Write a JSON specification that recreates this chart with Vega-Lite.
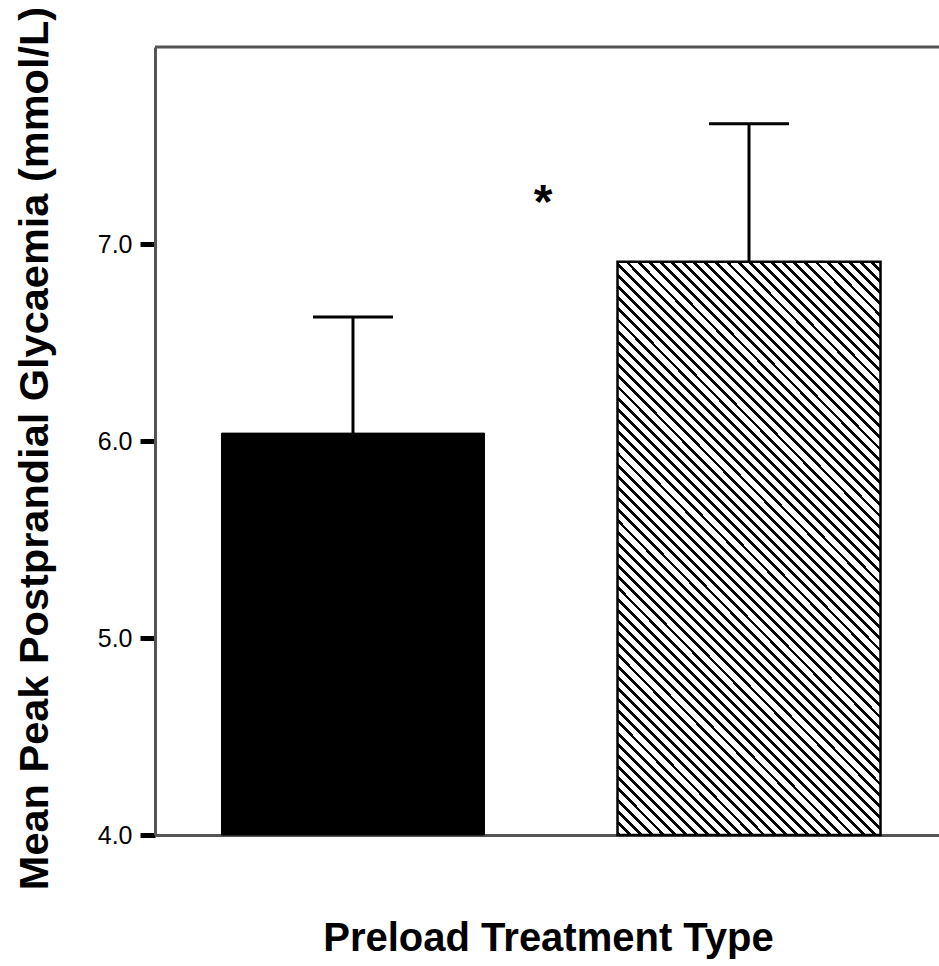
{
  "$schema": "https://vega.github.io/schema/vega-lite/v6.json",
  "width": 784,
  "height": 788,
  "autosize": {"type": "none"},
  "padding": {"left": 155, "top": 47, "right": 0, "bottom": 131},
  "background": "white",
  "config": {"font": "Liberation Sans", "view": {"stroke": null}},
  "datasets": {
    "bars": [
      {"treatment": "Preload A", "mean": 6.04, "upper": 6.63},
      {"treatment": "Preload B", "mean": 6.91, "upper": 7.61}
    ],
    "annot": [
      {"treatment": "Preload B", "pos": 7.13, "label": "*"}
    ]
  },
  "layer": [
    {
      "data": {"name": "bars"},
      "transform": [{"filter": {"field": "treatment", "equal": "Preload A"}}],
      "mark": {"type": "bar", "fill": "#000", "stroke": "#000", "strokeWidth": 1},
      "encoding": {
        "x": {
          "field": "treatment", "type": "nominal",
          "scale": {"domain": ["Preload A", "Preload B"], "paddingInner": 0.3359, "paddingOuter": 0.1578, "align": 0.532},
          "title": "Preload Treatment Type",
          "axis": {"labels": false, "ticks": false, "grid": false, "domain": true, "domainColor": "#555", "domainWidth": 3,
            "titleFontSize": 40, "titleFontWeight": "bold", "titleFont": "Liberation Sans", "titleColor": "#000",
            "titleX": 393, "titleY": 115, "titleBaseline": "alphabetic", "titleAlign": "center"}
        },
        "y": {
          "field": "mean", "type": "quantitative",
          "scale": {"domain": [4, 8], "nice": false, "zero": false},
          "title": "Mean Peak Postprandial Glycaemia (mmol/L)",
          "axis": {"values": [4, 5, 6, 7], "format": ".1f", "grid": false, "domain": true, "domainColor": "#555", "domainWidth": 3,
            "ticks": true, "tickColor": "#000", "tickWidth": 5, "tickSize": 15, "labelFlush": false,
            "labelFontSize": 25, "labelColor": "#000", "labelPadding": 8, "labelFont": "Liberation Sans",
            "titleFontSize": 41.5, "titleFont": "Liberation Sans", "titleFontWeight": "bold", "titleColor": "#000",
            "titleAngle": -90, "titleBaseline": "alphabetic", "titleAlign": "center", "titleX": -108, "titleY": 401}
        },
        "y2": {"datum": 4}
      }
    },
    {
      "data": {"name": "bars"},
      "transform": [{"filter": {"field": "treatment", "equal": "Preload B"}}],
      "mark": {
        "type": "bar", "stroke": "#000", "strokeWidth": 2.5,
        "fill": {
          "gradient": "linear", "x1": 0, "y1": 1, "x2": 0.555, "y2": -0.205,
          "stops": [
            {"offset": 0, "color": "#000"}, {"offset": 0.00467, "color": "#000"}, {"offset": 0.00467, "color": "#fff"}, {"offset": 0.01333, "color": "#fff"},
            {"offset": 0.01333, "color": "#000"}, {"offset": 0.018, "color": "#000"}, {"offset": 0.018, "color": "#fff"}, {"offset": 0.02667, "color": "#fff"},
            {"offset": 0.02667, "color": "#000"}, {"offset": 0.03133, "color": "#000"}, {"offset": 0.03133, "color": "#fff"}, {"offset": 0.04, "color": "#fff"},
            {"offset": 0.04, "color": "#000"}, {"offset": 0.04467, "color": "#000"}, {"offset": 0.04467, "color": "#fff"}, {"offset": 0.05333, "color": "#fff"},
            {"offset": 0.05333, "color": "#000"}, {"offset": 0.058, "color": "#000"}, {"offset": 0.058, "color": "#fff"}, {"offset": 0.06667, "color": "#fff"},
            {"offset": 0.06667, "color": "#000"}, {"offset": 0.07133, "color": "#000"}, {"offset": 0.07133, "color": "#fff"}, {"offset": 0.08, "color": "#fff"},
            {"offset": 0.08, "color": "#000"}, {"offset": 0.08467, "color": "#000"}, {"offset": 0.08467, "color": "#fff"}, {"offset": 0.09333, "color": "#fff"},
            {"offset": 0.09333, "color": "#000"}, {"offset": 0.098, "color": "#000"}, {"offset": 0.098, "color": "#fff"}, {"offset": 0.10667, "color": "#fff"},
            {"offset": 0.10667, "color": "#000"}, {"offset": 0.11133, "color": "#000"}, {"offset": 0.11133, "color": "#fff"}, {"offset": 0.12, "color": "#fff"},
            {"offset": 0.12, "color": "#000"}, {"offset": 0.12467, "color": "#000"}, {"offset": 0.12467, "color": "#fff"}, {"offset": 0.13333, "color": "#fff"},
            {"offset": 0.13333, "color": "#000"}, {"offset": 0.138, "color": "#000"}, {"offset": 0.138, "color": "#fff"}, {"offset": 0.14667, "color": "#fff"},
            {"offset": 0.14667, "color": "#000"}, {"offset": 0.15133, "color": "#000"}, {"offset": 0.15133, "color": "#fff"}, {"offset": 0.16, "color": "#fff"},
            {"offset": 0.16, "color": "#000"}, {"offset": 0.16467, "color": "#000"}, {"offset": 0.16467, "color": "#fff"}, {"offset": 0.17333, "color": "#fff"},
            {"offset": 0.17333, "color": "#000"}, {"offset": 0.178, "color": "#000"}, {"offset": 0.178, "color": "#fff"}, {"offset": 0.18667, "color": "#fff"},
            {"offset": 0.18667, "color": "#000"}, {"offset": 0.19133, "color": "#000"}, {"offset": 0.19133, "color": "#fff"}, {"offset": 0.2, "color": "#fff"},
            {"offset": 0.2, "color": "#000"}, {"offset": 0.20467, "color": "#000"}, {"offset": 0.20467, "color": "#fff"}, {"offset": 0.21333, "color": "#fff"},
            {"offset": 0.21333, "color": "#000"}, {"offset": 0.218, "color": "#000"}, {"offset": 0.218, "color": "#fff"}, {"offset": 0.22667, "color": "#fff"},
            {"offset": 0.22667, "color": "#000"}, {"offset": 0.23133, "color": "#000"}, {"offset": 0.23133, "color": "#fff"}, {"offset": 0.24, "color": "#fff"},
            {"offset": 0.24, "color": "#000"}, {"offset": 0.24467, "color": "#000"}, {"offset": 0.24467, "color": "#fff"}, {"offset": 0.25333, "color": "#fff"},
            {"offset": 0.25333, "color": "#000"}, {"offset": 0.258, "color": "#000"}, {"offset": 0.258, "color": "#fff"}, {"offset": 0.26667, "color": "#fff"},
            {"offset": 0.26667, "color": "#000"}, {"offset": 0.27133, "color": "#000"}, {"offset": 0.27133, "color": "#fff"}, {"offset": 0.28, "color": "#fff"},
            {"offset": 0.28, "color": "#000"}, {"offset": 0.28467, "color": "#000"}, {"offset": 0.28467, "color": "#fff"}, {"offset": 0.29333, "color": "#fff"},
            {"offset": 0.29333, "color": "#000"}, {"offset": 0.298, "color": "#000"}, {"offset": 0.298, "color": "#fff"}, {"offset": 0.30667, "color": "#fff"},
            {"offset": 0.30667, "color": "#000"}, {"offset": 0.31133, "color": "#000"}, {"offset": 0.31133, "color": "#fff"}, {"offset": 0.32, "color": "#fff"},
            {"offset": 0.32, "color": "#000"}, {"offset": 0.32467, "color": "#000"}, {"offset": 0.32467, "color": "#fff"}, {"offset": 0.33333, "color": "#fff"},
            {"offset": 0.33333, "color": "#000"}, {"offset": 0.338, "color": "#000"}, {"offset": 0.338, "color": "#fff"}, {"offset": 0.34667, "color": "#fff"},
            {"offset": 0.34667, "color": "#000"}, {"offset": 0.35133, "color": "#000"}, {"offset": 0.35133, "color": "#fff"}, {"offset": 0.36, "color": "#fff"},
            {"offset": 0.36, "color": "#000"}, {"offset": 0.36467, "color": "#000"}, {"offset": 0.36467, "color": "#fff"}, {"offset": 0.37333, "color": "#fff"},
            {"offset": 0.37333, "color": "#000"}, {"offset": 0.378, "color": "#000"}, {"offset": 0.378, "color": "#fff"}, {"offset": 0.38667, "color": "#fff"},
            {"offset": 0.38667, "color": "#000"}, {"offset": 0.39133, "color": "#000"}, {"offset": 0.39133, "color": "#fff"}, {"offset": 0.4, "color": "#fff"},
            {"offset": 0.4, "color": "#000"}, {"offset": 0.40467, "color": "#000"}, {"offset": 0.40467, "color": "#fff"}, {"offset": 0.41333, "color": "#fff"},
            {"offset": 0.41333, "color": "#000"}, {"offset": 0.418, "color": "#000"}, {"offset": 0.418, "color": "#fff"}, {"offset": 0.42667, "color": "#fff"},
            {"offset": 0.42667, "color": "#000"}, {"offset": 0.43133, "color": "#000"}, {"offset": 0.43133, "color": "#fff"}, {"offset": 0.44, "color": "#fff"},
            {"offset": 0.44, "color": "#000"}, {"offset": 0.44467, "color": "#000"}, {"offset": 0.44467, "color": "#fff"}, {"offset": 0.45333, "color": "#fff"},
            {"offset": 0.45333, "color": "#000"}, {"offset": 0.458, "color": "#000"}, {"offset": 0.458, "color": "#fff"}, {"offset": 0.46667, "color": "#fff"},
            {"offset": 0.46667, "color": "#000"}, {"offset": 0.47133, "color": "#000"}, {"offset": 0.47133, "color": "#fff"}, {"offset": 0.48, "color": "#fff"},
            {"offset": 0.48, "color": "#000"}, {"offset": 0.48467, "color": "#000"}, {"offset": 0.48467, "color": "#fff"}, {"offset": 0.49333, "color": "#fff"},
            {"offset": 0.49333, "color": "#000"}, {"offset": 0.498, "color": "#000"}, {"offset": 0.498, "color": "#fff"}, {"offset": 0.50667, "color": "#fff"},
            {"offset": 0.50667, "color": "#000"}, {"offset": 0.51133, "color": "#000"}, {"offset": 0.51133, "color": "#fff"}, {"offset": 0.52, "color": "#fff"},
            {"offset": 0.52, "color": "#000"}, {"offset": 0.52467, "color": "#000"}, {"offset": 0.52467, "color": "#fff"}, {"offset": 0.53333, "color": "#fff"},
            {"offset": 0.53333, "color": "#000"}, {"offset": 0.538, "color": "#000"}, {"offset": 0.538, "color": "#fff"}, {"offset": 0.54667, "color": "#fff"},
            {"offset": 0.54667, "color": "#000"}, {"offset": 0.55133, "color": "#000"}, {"offset": 0.55133, "color": "#fff"}, {"offset": 0.56, "color": "#fff"},
            {"offset": 0.56, "color": "#000"}, {"offset": 0.56467, "color": "#000"}, {"offset": 0.56467, "color": "#fff"}, {"offset": 0.57333, "color": "#fff"},
            {"offset": 0.57333, "color": "#000"}, {"offset": 0.578, "color": "#000"}, {"offset": 0.578, "color": "#fff"}, {"offset": 0.58667, "color": "#fff"},
            {"offset": 0.58667, "color": "#000"}, {"offset": 0.59133, "color": "#000"}, {"offset": 0.59133, "color": "#fff"}, {"offset": 0.6, "color": "#fff"},
            {"offset": 0.6, "color": "#000"}, {"offset": 0.60467, "color": "#000"}, {"offset": 0.60467, "color": "#fff"}, {"offset": 0.61333, "color": "#fff"},
            {"offset": 0.61333, "color": "#000"}, {"offset": 0.618, "color": "#000"}, {"offset": 0.618, "color": "#fff"}, {"offset": 0.62667, "color": "#fff"},
            {"offset": 0.62667, "color": "#000"}, {"offset": 0.63133, "color": "#000"}, {"offset": 0.63133, "color": "#fff"}, {"offset": 0.64, "color": "#fff"},
            {"offset": 0.64, "color": "#000"}, {"offset": 0.64467, "color": "#000"}, {"offset": 0.64467, "color": "#fff"}, {"offset": 0.65333, "color": "#fff"},
            {"offset": 0.65333, "color": "#000"}, {"offset": 0.658, "color": "#000"}, {"offset": 0.658, "color": "#fff"}, {"offset": 0.66667, "color": "#fff"},
            {"offset": 0.66667, "color": "#000"}, {"offset": 0.67133, "color": "#000"}, {"offset": 0.67133, "color": "#fff"}, {"offset": 0.68, "color": "#fff"},
            {"offset": 0.68, "color": "#000"}, {"offset": 0.68467, "color": "#000"}, {"offset": 0.68467, "color": "#fff"}, {"offset": 0.69333, "color": "#fff"},
            {"offset": 0.69333, "color": "#000"}, {"offset": 0.698, "color": "#000"}, {"offset": 0.698, "color": "#fff"}, {"offset": 0.70667, "color": "#fff"},
            {"offset": 0.70667, "color": "#000"}, {"offset": 0.71133, "color": "#000"}, {"offset": 0.71133, "color": "#fff"}, {"offset": 0.72, "color": "#fff"},
            {"offset": 0.72, "color": "#000"}, {"offset": 0.72467, "color": "#000"}, {"offset": 0.72467, "color": "#fff"}, {"offset": 0.73333, "color": "#fff"},
            {"offset": 0.73333, "color": "#000"}, {"offset": 0.738, "color": "#000"}, {"offset": 0.738, "color": "#fff"}, {"offset": 0.74667, "color": "#fff"},
            {"offset": 0.74667, "color": "#000"}, {"offset": 0.75133, "color": "#000"}, {"offset": 0.75133, "color": "#fff"}, {"offset": 0.76, "color": "#fff"},
            {"offset": 0.76, "color": "#000"}, {"offset": 0.76467, "color": "#000"}, {"offset": 0.76467, "color": "#fff"}, {"offset": 0.77333, "color": "#fff"},
            {"offset": 0.77333, "color": "#000"}, {"offset": 0.778, "color": "#000"}, {"offset": 0.778, "color": "#fff"}, {"offset": 0.78667, "color": "#fff"},
            {"offset": 0.78667, "color": "#000"}, {"offset": 0.79133, "color": "#000"}, {"offset": 0.79133, "color": "#fff"}, {"offset": 0.8, "color": "#fff"},
            {"offset": 0.8, "color": "#000"}, {"offset": 0.80467, "color": "#000"}, {"offset": 0.80467, "color": "#fff"}, {"offset": 0.81333, "color": "#fff"},
            {"offset": 0.81333, "color": "#000"}, {"offset": 0.818, "color": "#000"}, {"offset": 0.818, "color": "#fff"}, {"offset": 0.82667, "color": "#fff"},
            {"offset": 0.82667, "color": "#000"}, {"offset": 0.83133, "color": "#000"}, {"offset": 0.83133, "color": "#fff"}, {"offset": 0.84, "color": "#fff"},
            {"offset": 0.84, "color": "#000"}, {"offset": 0.84467, "color": "#000"}, {"offset": 0.84467, "color": "#fff"}, {"offset": 0.85333, "color": "#fff"},
            {"offset": 0.85333, "color": "#000"}, {"offset": 0.858, "color": "#000"}, {"offset": 0.858, "color": "#fff"}, {"offset": 0.86667, "color": "#fff"},
            {"offset": 0.86667, "color": "#000"}, {"offset": 0.87133, "color": "#000"}, {"offset": 0.87133, "color": "#fff"}, {"offset": 0.88, "color": "#fff"},
            {"offset": 0.88, "color": "#000"}, {"offset": 0.88467, "color": "#000"}, {"offset": 0.88467, "color": "#fff"}, {"offset": 0.89333, "color": "#fff"},
            {"offset": 0.89333, "color": "#000"}, {"offset": 0.898, "color": "#000"}, {"offset": 0.898, "color": "#fff"}, {"offset": 0.90667, "color": "#fff"},
            {"offset": 0.90667, "color": "#000"}, {"offset": 0.91133, "color": "#000"}, {"offset": 0.91133, "color": "#fff"}, {"offset": 0.92, "color": "#fff"},
            {"offset": 0.92, "color": "#000"}, {"offset": 0.92467, "color": "#000"}, {"offset": 0.92467, "color": "#fff"}, {"offset": 0.93333, "color": "#fff"},
            {"offset": 0.93333, "color": "#000"}, {"offset": 0.938, "color": "#000"}, {"offset": 0.938, "color": "#fff"}, {"offset": 0.94667, "color": "#fff"},
            {"offset": 0.94667, "color": "#000"}, {"offset": 0.95133, "color": "#000"}, {"offset": 0.95133, "color": "#fff"}, {"offset": 0.96, "color": "#fff"},
            {"offset": 0.96, "color": "#000"}, {"offset": 0.96467, "color": "#000"}, {"offset": 0.96467, "color": "#fff"}, {"offset": 0.97333, "color": "#fff"},
            {"offset": 0.97333, "color": "#000"}, {"offset": 0.978, "color": "#000"}, {"offset": 0.978, "color": "#fff"}, {"offset": 0.98667, "color": "#fff"},
            {"offset": 0.98667, "color": "#000"}, {"offset": 0.99133, "color": "#000"}, {"offset": 0.99133, "color": "#fff"}, {"offset": 1, "color": "#fff"}
          ]
        }
      },
      "encoding": {
        "x": {"field": "treatment", "type": "nominal", "title": "Preload Treatment Type"},
        "y": {"field": "mean", "type": "quantitative", "title": "Mean Peak Postprandial Glycaemia (mmol/L)"},
        "y2": {"datum": 4}
      }
    },
    {
      "data": {"name": "bars"},
      "mark": {"type": "rule", "color": "#000", "strokeWidth": 3},
      "encoding": {
        "x": {"field": "treatment", "type": "nominal", "title": "Preload Treatment Type"},
        "y": {"field": "mean", "type": "quantitative", "title": "Mean Peak Postprandial Glycaemia (mmol/L)"},
        "y2": {"field": "upper"}
      }
    },
    {
      "data": {"name": "bars"},
      "mark": {"type": "tick", "color": "#000", "size": 80, "thickness": 3, "opacity": 1},
      "encoding": {
        "x": {"field": "treatment", "type": "nominal", "title": "Preload Treatment Type"},
        "y": {"field": "upper", "type": "quantitative", "title": "Mean Peak Postprandial Glycaemia (mmol/L)"}
      }
    },
    {
      "data": {"name": "annot"},
      "mark": {"type": "text", "fontSize": 48, "fontWeight": "bold", "font": "Liberation Sans", "color": "#000", "dx": -206, "align": "center", "baseline": "alphabetic"},
      "encoding": {
        "x": {"field": "treatment", "type": "nominal", "title": "Preload Treatment Type"},
        "y": {"field": "pos", "type": "quantitative", "title": "Mean Peak Postprandial Glycaemia (mmol/L)"},
        "text": {"field": "label"}
      }
    },
    {
      "data": {"values": [{}]},
      "mark": {"type": "rule", "color": "#555", "strokeWidth": 3},
      "encoding": {
        "y": {"datum": 8, "type": "quantitative"}
      }
    }
  ]
}
